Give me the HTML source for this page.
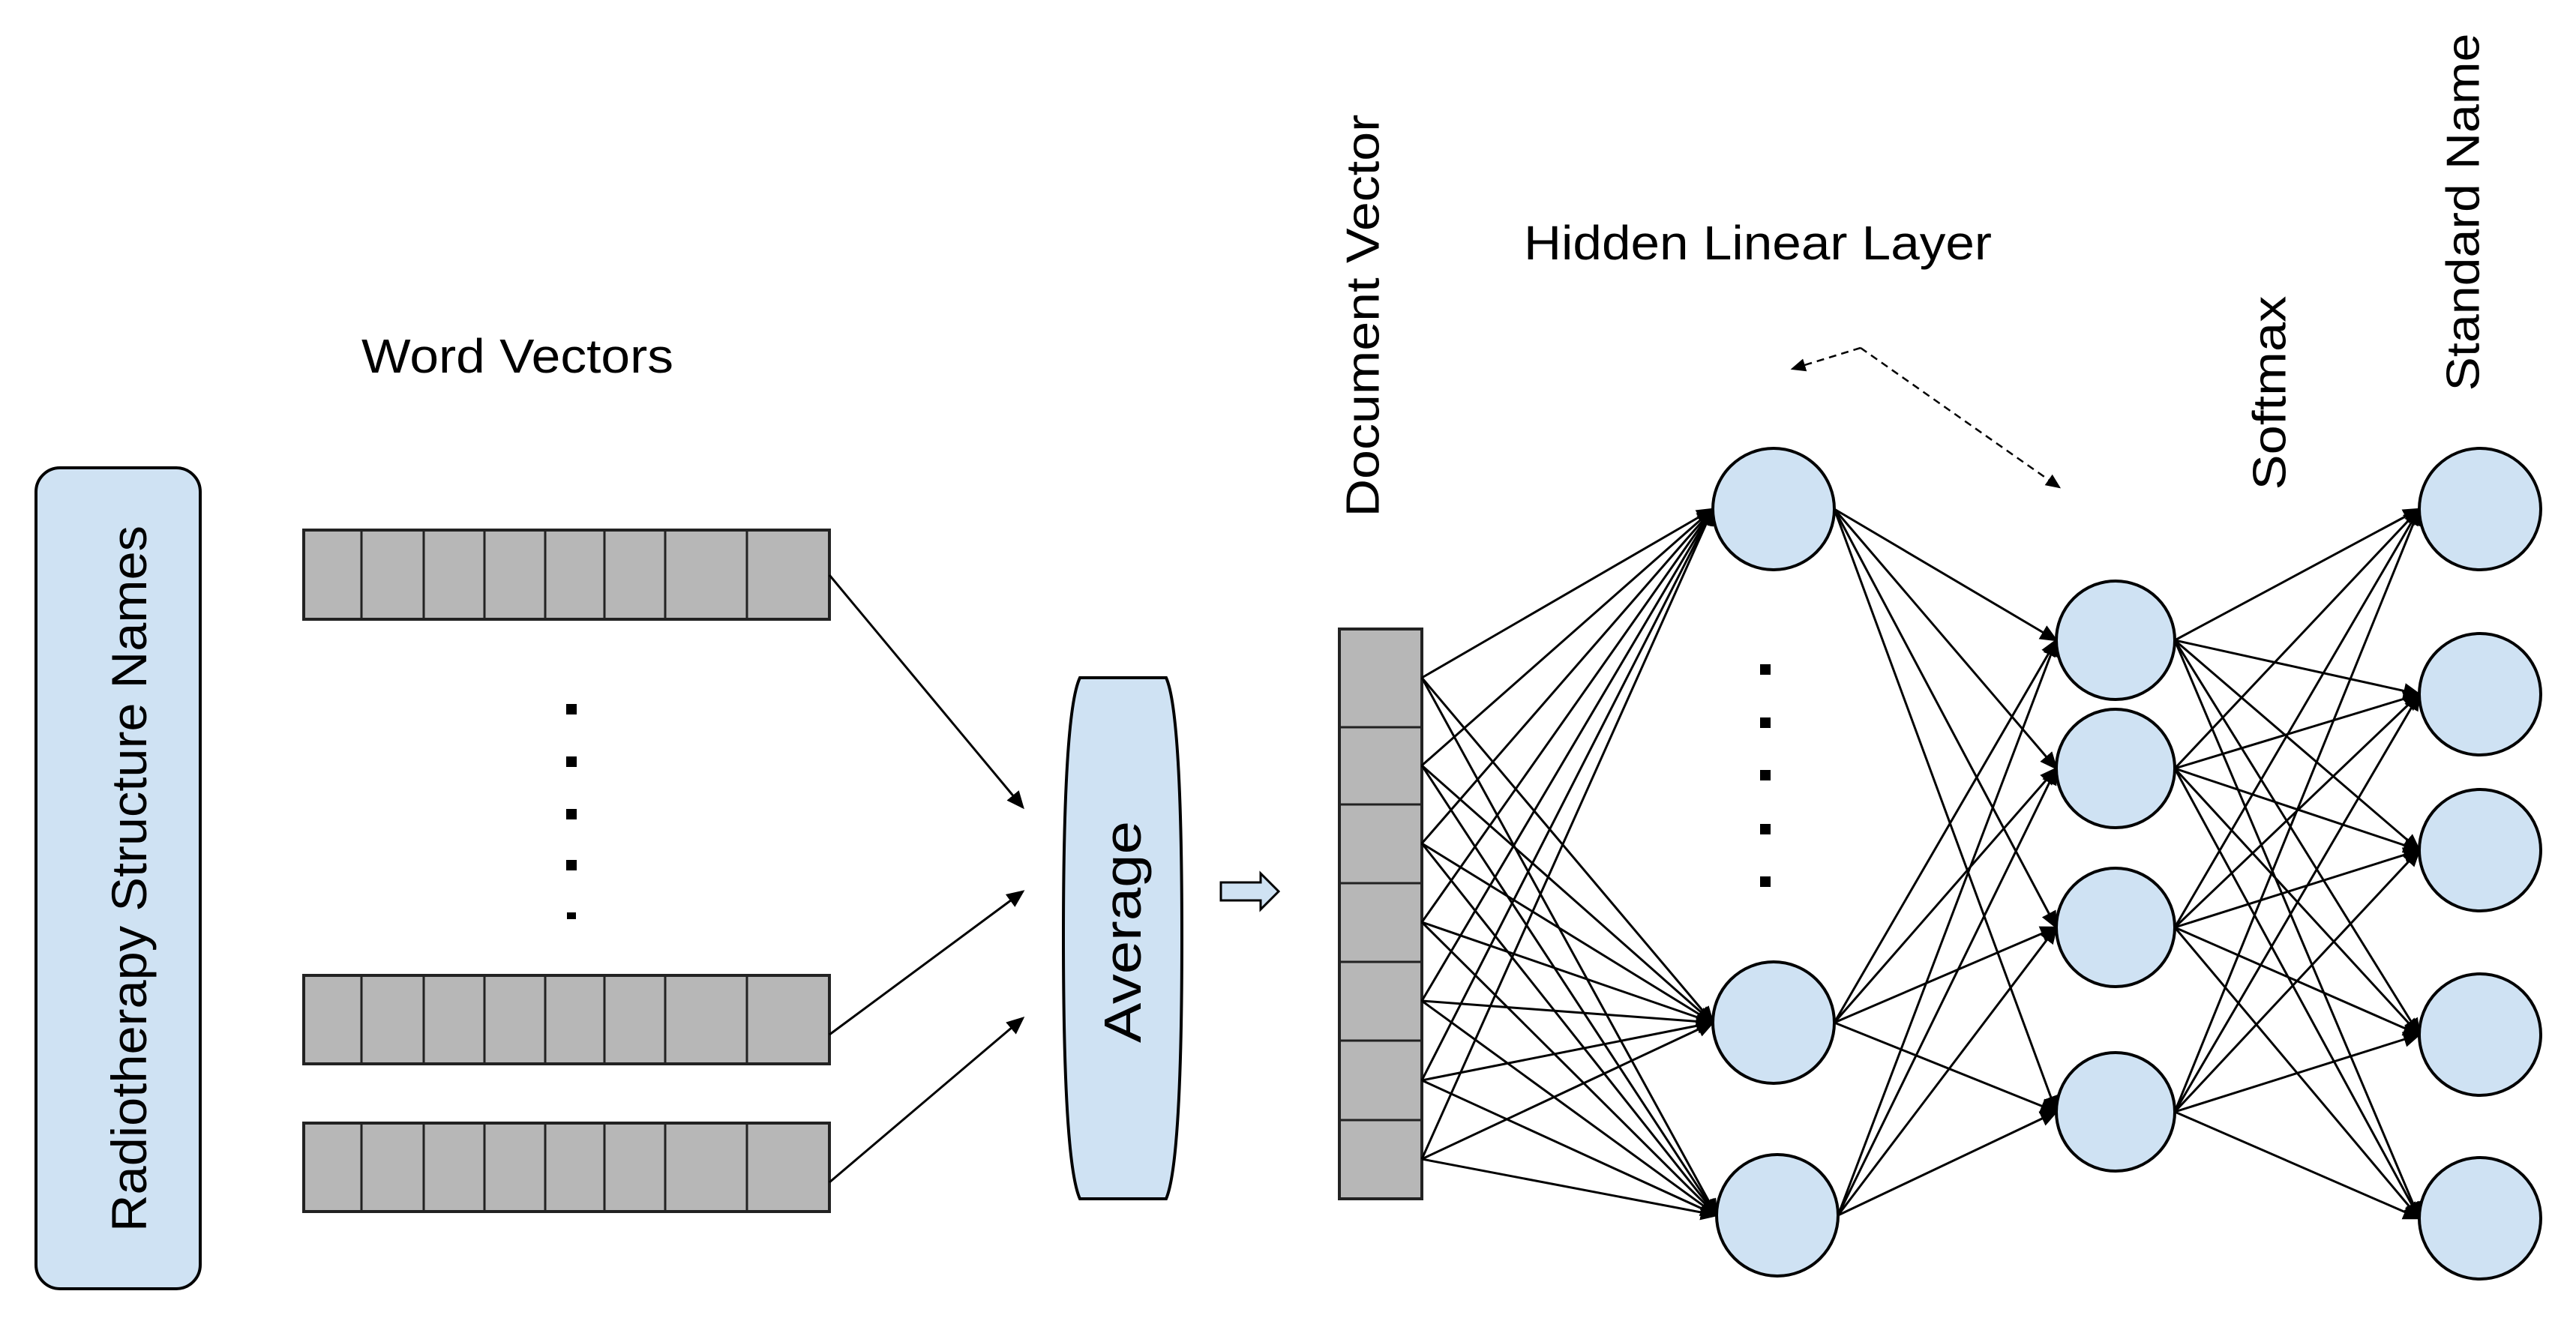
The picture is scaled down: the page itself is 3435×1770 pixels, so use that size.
<!DOCTYPE html>
<html><head><meta charset="utf-8"><style>html,body{margin:0;padding:0;background:#fff}svg{display:block}</style></head>
<body>
<svg width="3435" height="1770" viewBox="0 0 3435 1770" xmlns="http://www.w3.org/2000/svg" font-family="Liberation Sans, Arial, sans-serif">
<defs>
<marker id="ah" markerWidth="8" markerHeight="8" refX="7" refY="4" orient="auto" markerUnits="strokeWidth"><path d="M0,0.5 L8,4 L0,7.5 z" fill="#000"/></marker>
</defs>
<rect width="3435" height="1770" fill="#fff"/>
<!-- left box -->
<rect x="48" y="624" width="219" height="1095" rx="32" fill="#cfe2f3" stroke="#000" stroke-width="4"/>
<text transform="translate(172,1172) rotate(-90)" text-anchor="middle" dominant-baseline="central" font-size="66" textLength="942" lengthAdjust="spacingAndGlyphs">Radiotherapy Structure Names</text>
<text x="482" y="497" font-size="64" textLength="416" lengthAdjust="spacingAndGlyphs">Word Vectors</text>
<!-- word vectors -->
<g fill="#b7b7b7" stroke="#222" stroke-width="4">
<rect x="405" y="707" width="701" height="119"/>
<rect x="405" y="1301" width="701" height="118"/>
<rect x="405" y="1498" width="701" height="118"/>
</g>
<g stroke="#222" stroke-width="3">
<path d="M482,707V826M565,707V826M646,707V826M727,707V826M806,707V826M887,707V826M996,707V826"/>
<path d="M482,1301V1419M565,1301V1419M646,1301V1419M727,1301V1419M806,1301V1419M887,1301V1419M996,1301V1419"/>
<path d="M482,1498V1616M565,1498V1616M646,1498V1616M727,1498V1616M806,1498V1616M887,1498V1616M996,1498V1616"/>
</g>
<g fill="#000"><rect x="755" y="939" width="14" height="14"/><rect x="755" y="1009" width="14" height="14"/><rect x="755" y="1079" width="14" height="14"/><rect x="755" y="1147" width="14" height="14"/><rect x="756" y="1217" width="12" height="9"/></g>
<g stroke="#000" stroke-width="3" marker-end="url(#ah)">
<line x1="1106" y1="767" x2="1364" y2="1077"/>
<line x1="1106" y1="1380" x2="1364" y2="1189"/>
<line x1="1106" y1="1577" x2="1364" y2="1358"/>
</g>
<!-- average -->
<path d="M1440,904 L1555,904 Q1576,950 1576,1250 Q1576,1550 1555,1599 L1440,1599 Q1418,1550 1418,1250 Q1418,950 1440,904 Z" fill="#cfe2f3" stroke="#000" stroke-width="4"/>
<text transform="translate(1497,1243) rotate(-90)" text-anchor="middle" dominant-baseline="central" font-size="70" textLength="296" lengthAdjust="spacingAndGlyphs">Average</text>
<path d="M1628,1177 H1681 V1165 L1705,1189 L1681,1213 V1201 H1628 Z" fill="#cfe2f3" stroke="#000" stroke-width="3"/>
<!-- doc vector -->
<rect x="1786" y="839" width="110" height="760" fill="#b7b7b7" stroke="#222" stroke-width="4"/>
<path d="M1786,970H1896M1786,1073H1896M1786,1178H1896M1786,1283H1896M1786,1388H1896M1786,1494H1896" stroke="#222" stroke-width="3"/>
<text transform="translate(1818,421) rotate(-90)" text-anchor="middle" dominant-baseline="central" font-size="62" textLength="537" lengthAdjust="spacingAndGlyphs">Document Vector</text>
<text x="2032" y="346" font-size="64" textLength="624" lengthAdjust="spacingAndGlyphs">Hidden Linear Layer</text>
<text transform="translate(3027,524) rotate(-90)" text-anchor="middle" dominant-baseline="central" font-size="62" textLength="259" lengthAdjust="spacingAndGlyphs">Softmax</text>
<text transform="translate(3285,283) rotate(-90)" text-anchor="middle" dominant-baseline="central" font-size="62" textLength="477" lengthAdjust="spacingAndGlyphs">Standard Name</text>
<!-- dashed -->
<g stroke="#000" stroke-width="2.5" stroke-dasharray="10,7" fill="none">
<path d="M2481,464 L2390,492" marker-end="url(#ah)"/>
<path d="M2481,464 L2746,650" marker-end="url(#ah)"/>
</g>
<!-- edges -->
<g stroke="#000" stroke-width="3" marker-end="url(#ah)">
<!-- doc -> hidden -->
<line x1="1896" y1="904" x2="2284" y2="679"/><line x1="1896" y1="904" x2="2284" y2="1364"/><line x1="1896" y1="904" x2="2289" y2="1621"/>
<line x1="1896" y1="1021" x2="2284" y2="679"/><line x1="1896" y1="1021" x2="2284" y2="1364"/><line x1="1896" y1="1021" x2="2289" y2="1621"/>
<line x1="1896" y1="1125" x2="2284" y2="679"/><line x1="1896" y1="1125" x2="2284" y2="1364"/><line x1="1896" y1="1125" x2="2289" y2="1621"/>
<line x1="1896" y1="1230" x2="2284" y2="679"/><line x1="1896" y1="1230" x2="2284" y2="1364"/><line x1="1896" y1="1230" x2="2289" y2="1621"/>
<line x1="1896" y1="1335" x2="2284" y2="679"/><line x1="1896" y1="1335" x2="2284" y2="1364"/><line x1="1896" y1="1335" x2="2289" y2="1621"/>
<line x1="1896" y1="1441" x2="2284" y2="679"/><line x1="1896" y1="1441" x2="2284" y2="1364"/><line x1="1896" y1="1441" x2="2289" y2="1621"/>
<line x1="1896" y1="1546" x2="2284" y2="679"/><line x1="1896" y1="1546" x2="2284" y2="1364"/><line x1="1896" y1="1546" x2="2289" y2="1621"/>
<!-- hidden -> layer2 -->
<line x1="2446" y1="679" x2="2742" y2="854"/><line x1="2446" y1="679" x2="2742" y2="1025"/><line x1="2446" y1="679" x2="2742" y2="1237"/><line x1="2446" y1="679" x2="2742" y2="1483"/>
<line x1="2446" y1="1364" x2="2742" y2="854"/><line x1="2446" y1="1364" x2="2742" y2="1025"/><line x1="2446" y1="1364" x2="2742" y2="1237"/><line x1="2446" y1="1364" x2="2742" y2="1483"/>
<line x1="2451" y1="1621" x2="2742" y2="854"/><line x1="2451" y1="1621" x2="2742" y2="1025"/><line x1="2451" y1="1621" x2="2742" y2="1237"/><line x1="2451" y1="1621" x2="2742" y2="1483"/>
<!-- layer2 -> output -->
<line x1="2900" y1="854" x2="3226" y2="679"/><line x1="2900" y1="854" x2="3226" y2="926"/><line x1="2900" y1="854" x2="3226" y2="1134"/><line x1="2900" y1="854" x2="3226" y2="1380"/><line x1="2900" y1="854" x2="3226" y2="1625"/>
<line x1="2900" y1="1025" x2="3226" y2="679"/><line x1="2900" y1="1025" x2="3226" y2="926"/><line x1="2900" y1="1025" x2="3226" y2="1134"/><line x1="2900" y1="1025" x2="3226" y2="1380"/><line x1="2900" y1="1025" x2="3226" y2="1625"/>
<line x1="2900" y1="1237" x2="3226" y2="679"/><line x1="2900" y1="1237" x2="3226" y2="926"/><line x1="2900" y1="1237" x2="3226" y2="1134"/><line x1="2900" y1="1237" x2="3226" y2="1380"/><line x1="2900" y1="1237" x2="3226" y2="1625"/>
<line x1="2900" y1="1483" x2="3226" y2="679"/><line x1="2900" y1="1483" x2="3226" y2="926"/><line x1="2900" y1="1483" x2="3226" y2="1134"/><line x1="2900" y1="1483" x2="3226" y2="1380"/><line x1="2900" y1="1483" x2="3226" y2="1625"/>
</g>
<!-- nodes -->
<g fill="#cfe2f3" stroke="#000" stroke-width="4">
<circle cx="2365" cy="679" r="81"/><circle cx="2365" cy="1364" r="81"/><circle cx="2370" cy="1621" r="81"/>
<circle cx="2821" cy="854" r="79"/><circle cx="2821" cy="1025" r="79"/><circle cx="2821" cy="1237" r="79"/><circle cx="2821" cy="1483" r="79"/>
<circle cx="3307" cy="679" r="81"/><circle cx="3307" cy="926" r="81"/><circle cx="3307" cy="1134" r="81"/><circle cx="3307" cy="1380" r="81"/><circle cx="3307" cy="1625" r="81"/>
</g>
<g fill="#000"><rect x="2347" y="886" width="14" height="14"/><rect x="2347" y="957" width="14" height="14"/><rect x="2347" y="1027" width="14" height="14"/><rect x="2347" y="1099" width="14" height="14"/><rect x="2347" y="1169" width="14" height="14"/></g>
</svg>
</body></html>
